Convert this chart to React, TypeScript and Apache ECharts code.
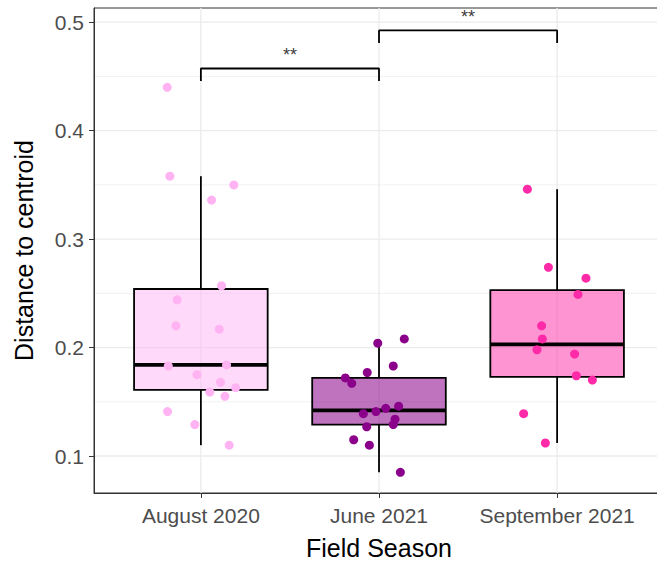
import { useEffect, useRef } from "react";
import * as echarts from "echarts";

// Field seasons (x categories, placed at 1, 2, 3 on the x scale)
const seasons = ["August 2020", "June 2021", "September 2021"];

// Box statistics per season
const whiskerLow = [0.11, 0.085, 0.112];
const q1 = [0.161, 0.129, 0.173];
const median = [0.184, 0.142, 0.203];
const q3 = [0.254, 0.172, 0.253];
const whiskerHigh = [0.358, 0.208, 0.346];

// Individual samples: distance to centroid, plus horizontal jitter (category units)
const augustValues = [0.44, 0.358, 0.35, 0.336, 0.257, 0.244, 0.22, 0.217, 0.183, 0.184, 0.175, 0.168, 0.159, 0.163, 0.155, 0.141, 0.129, 0.11];
const augustJitter = [-0.189, -0.174, 0.185, 0.06, 0.116, -0.133, -0.14, 0.103, -0.183, 0.144, -0.022, 0.11, 0.05, 0.195, 0.135, -0.187, -0.034, 0.159];
const juneValues = [0.204, 0.208, 0.183, 0.177, 0.172, 0.167, 0.146, 0.144, 0.141, 0.139, 0.134, 0.129, 0.127, 0.115, 0.11, 0.085];
const juneJitter = [-0.007, 0.142, 0.08, -0.066, -0.189, -0.153, 0.11, 0.038, -0.017, -0.088, 0.09, 0.08, -0.069, -0.142, -0.054, 0.12];
const septemberValues = [0.346, 0.274, 0.264, 0.249, 0.22, 0.208, 0.198, 0.194, 0.174, 0.17, 0.139, 0.112];
const septemberJitter = [-0.167, -0.049, 0.162, 0.117, -0.087, -0.083, -0.113, 0.098, 0.108, 0.198, -0.188, -0.066];

// Significance brackets between season pairs
const bracketFrom = [1, 2];
const bracketTo = [2, 3];
const bracketHeight = [0.4573, 0.4924];
const bracketTip = 0.0115;
const bracketLabel = ["**", "**"];

// Axis ticks and grid lines
const yTicks = [0.1, 0.2, 0.3, 0.4, 0.5];
const yMinorTicks = [0.15, 0.25, 0.35, 0.45];
const xTicks = [1, 2, 3];

const pointColors = ["#FFB3F3", "#8B008B", "#FF2AA8"];
const boxFills = ["rgba(255,179,243,0.5)", "rgba(139,0,139,0.55)", "rgba(255,42,168,0.5)"];

const FONT = "'Liberation Sans', Arial, sans-serif";
const X_MIN = 0.4;
const X_MAX = 3.6;
const Y_MIN = 0.0659;
const Y_MAX = 0.5131;
const BOX_HALF = 0.375;

function buildOption() {
  const samples = [
    { v: augustValues, j: augustJitter },
    { v: juneValues, j: juneJitter },
    { v: septemberValues, j: septemberJitter },
  ];

  const hGridData = [
    ...yTicks.map((v) => [X_MIN, v, 1]),
    ...yMinorTicks.map((v) => [X_MIN, v, 0]),
  ];

  const series: any[] = [
    {
      type: "custom",
      name: "hgrid",
      silent: true,
      z: 0,
      data: hGridData,
      encode: { x: 0, y: 1 },
      renderItem: (params: any, api: any) => {
        const cs = params.coordSys;
        const y = api.coord([X_MIN, api.value(1)])[1];
        const major = api.value(2) === 1;
        return {
          type: "line",
          shape: { x1: cs.x, y1: y, x2: cs.x + cs.width, y2: y },
          style: { stroke: "#EBEBEB", lineWidth: major ? 1.3 : 0.7 },
        };
      },
    },
    {
      type: "custom",
      name: "vgrid",
      silent: true,
      z: 0,
      data: xTicks.map((x) => [x, 0.3]),
      encode: { x: 0, y: 1 },
      renderItem: (params: any, api: any) => {
        const cs = params.coordSys;
        const x = api.coord([api.value(0), 0.3])[0];
        return {
          type: "line",
          shape: { x1: x, y1: cs.y, x2: x, y2: cs.y + cs.height },
          style: { stroke: "#EBEBEB", lineWidth: 1.3 },
        };
      },
    },
    {
      type: "custom",
      name: "boxes",
      z: 2,
      data: seasons.map((_, i) => [i + 1, whiskerLow[i], q1[i], median[i], q3[i], whiskerHigh[i], i]),
      encode: { x: 0, y: [1, 2, 3, 4, 5] },
      renderItem: (params: any, api: any) => {
        const c = api.value(0);
        const idx = api.value(6);
        const lo = api.coord([c, api.value(1)]);
        const b1 = api.coord([c - BOX_HALF, api.value(2)]);
        const md = api.coord([c + BOX_HALF, api.value(3)]);
        const b3 = api.coord([c + BOX_HALF, api.value(4)]);
        const hi = api.coord([c, api.value(5)]);
        const xl = b1[0];
        const xr = b3[0];
        return {
          type: "group",
          children: [
            {
              type: "line",
              shape: { x1: lo[0], y1: lo[1], x2: lo[0], y2: b1[1] },
              style: { stroke: "#000", lineWidth: 1.8 },
            },
            {
              type: "line",
              shape: { x1: hi[0], y1: hi[1], x2: hi[0], y2: b3[1] },
              style: { stroke: "#000", lineWidth: 1.8 },
            },
            {
              type: "rect",
              shape: { x: xl, y: b3[1], width: xr - xl, height: b1[1] - b3[1] },
              style: { fill: boxFills[idx], stroke: "#000", lineWidth: 1.8 },
            },
            {
              type: "line",
              shape: { x1: xl, y1: md[1], x2: xr, y2: md[1] },
              style: { stroke: "#000", lineWidth: 3.8 },
            },
          ],
        };
      },
    },
    ...samples.map((s, i) => ({
      type: "scatter",
      name: seasons[i],
      z: 3,
      symbolSize: 9,
      itemStyle: { color: pointColors[i], opacity: 1 },
      data: s.v.map((v, k) => [i + 1 + s.j[k], v]),
    })),
    ...bracketFrom.map((a, i) => {
      const b = bracketTo[i];
      const h = bracketHeight[i];
      return {
        type: "line",
        name: "bracket" + i,
        z: 4,
        symbol: "none",
        silent: true,
        lineStyle: { color: "#000", width: 1.8 },
        data: [
          [a, h - bracketTip],
          [a, h],
          [b, h],
          [b, h - bracketTip],
        ],
      };
    }),
    {
      type: "scatter",
      name: "significance",
      z: 4,
      silent: true,
      symbolSize: 1,
      itemStyle: { color: "rgba(0,0,0,0)" },
      label: {
        show: true,
        position: "top",
        distance: 4,
        formatter: (p: any) => bracketLabel[p.dataIndex],
        fontSize: 18,
        color: "#000",
        fontFamily: FONT,
      },
      data: bracketFrom.map((a, i) => [(a + bracketTo[i]) / 2, bracketHeight[i]]),
    },
  ];

  return {
    animation: false,
    backgroundColor: "#fff",
    textStyle: { fontFamily: FONT },
    grid: {
      left: 94,
      top: 8,
      width: 570,
      height: 485,
      outerBoundsMode: "none",
      show: true,
      borderColor: "#333",
      borderWidth: 1,
      backgroundColor: "transparent",
    },
    xAxis: {
      type: "value",
      min: X_MIN,
      max: X_MAX,
      splitLine: { show: false },
      axisLine: { show: true, onZero: false, lineStyle: { color: "#333", width: 1 } },
      axisTick: { show: true, customValues: xTicks, length: 5, lineStyle: { color: "#333", width: 1 } },
      axisLabel: {
        customValues: xTicks,
        formatter: (v: number) => seasons[Math.round(v) - 1] ?? "",
        fontSize: 21,
        color: "#4D4D4D",
        margin: 12,
        fontFamily: FONT,
      },
      name: "Field Season",
      nameLocation: "middle",
      nameGap: 45,
      nameTextStyle: { fontSize: 25, lineHeight: 20, color: "#000", fontFamily: FONT },
    },
    yAxis: {
      type: "value",
      min: Y_MIN,
      max: Y_MAX,
      splitLine: { show: false },
      axisLine: { show: true, onZero: false, lineStyle: { color: "#333", width: 1 } },
      axisTick: { show: true, customValues: yTicks, length: 5, lineStyle: { color: "#333", width: 1 } },
      axisLabel: {
        customValues: yTicks,
        formatter: (v: number) => v.toFixed(1),
        fontSize: 21,
        color: "#4D4D4D",
        margin: 10,
        fontFamily: FONT,
      },
      name: "Distance to centroid",
      nameLocation: "middle",
      nameGap: 58,
      nameTextStyle: { fontSize: 25, color: "#000", fontFamily: FONT },
    },
    series,
  };
}

export default function App() {
  const ref = useRef<HTMLDivElement>(null);
  useEffect(() => {
    if (!ref.current) return;
    const chart = echarts.init(ref.current, null, { renderer: "svg" });
    chart.setOption(buildOption() as any);
    return () => chart.dispose();
  }, []);
  return (
    <div
      ref={ref}
      style={{
        position: "fixed",
        left: 0,
        top: 0,
        width: 657,
        height: 562,
        overflow: "hidden",
        background: "#fff",
      }}
    />
  );
}
